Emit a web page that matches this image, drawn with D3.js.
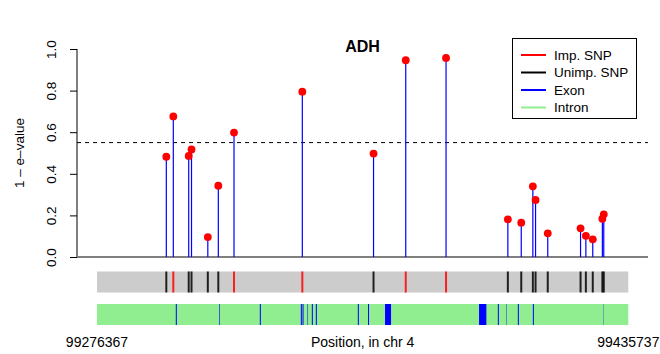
<!DOCTYPE html>
<html><head><meta charset="utf-8">
<script src="https://cdn.jsdelivr.net/npm/d3@7"></script>
<style>body{margin:0;background:#fff}svg{display:block;font-family:"Liberation Sans",Arial,sans-serif}</style>
</head><body>
<script>
const title = "ADH";
const chrom = "4";
const regionStart = 99276367;
const regionEnd = 99435737;
const snpPos = [99297157,99299257,99303877,99304717,99309607,99312757,99317467,99337957,99359317,99368977,99381067,99399607,99403627,99407107,99407917,99411577,99421417,99423007,99425077,99427957,99428377];
const snpValue = [0.482,0.676,0.486,0.517,0.096,0.343,0.598,0.795,0.497,0.946,0.957,0.181,0.165,0.340,0.274,0.114,0.138,0.102,0.085,0.184,0.205];
const snpImputed = [0,1,0,0,0,0,1,1,0,1,1,0,0,0,0,0,0,0,0,0,0];
const exonStart = [99300007,99312967,99325207,99337507,99338017,99339517,99340807,99342007,99354607,99357667,99362767,99390967,99396607,99399157,99402607,99407107,99428197];
const exonEnd   = [99300307,99313147,99325507,99337807,99338317,99339667,99341107,99342307,99354907,99357967,99364567,99393157,99396907,99399277,99402907,99407407,99428287];
const threshold = 0.55;
const yTicks = [0,0.2,0.4,0.6,0.8,1.0];
const legendLabels = ["Imp. SNP","Unimp. SNP","Exon","Intron"];
const legendColors = ["#FF0000","#000000","#0000FF","#90EE90"];

const W=660,H=354;
const svg=d3.select("body").append("svg").attr("width",W).attr("height",H);
const x=d3.scaleLinear().domain([regionStart,regionEnd]).range([97,628.3]);
const y=d3.scaleLinear().domain([0,1]).range([257,49]);
const plotL=77, plotR=648;

// title
svg.append("text").attr("x",362.5).attr("y",52).attr("text-anchor","middle")
  .attr("font-size",16).attr("font-weight","bold").text(title);

// y axis
const yAxis=svg.append("g").attr("transform",`translate(${plotL},0)`)
  .call(d3.axisLeft(y).tickValues(yTicks).tickSize(7).tickFormat(d3.format(".1f")));
yAxis.attr("font-family",null);
yAxis.select(".domain").attr("stroke","#000").attr("d",`M0,${y(0)}V${y(1)}`);
yAxis.selectAll(".tick line").attr("stroke","#000");
yAxis.selectAll(".tick text").attr("font-size",13.5).attr("fill","#000")
  .attr("x",0).attr("dy",0).attr("text-anchor","middle")
  .attr("transform","translate(-21,0) rotate(-90)");

svg.append("text").attr("transform",`translate(24,${(y(0)+y(1))/2}) rotate(-90)`)
  .attr("text-anchor","middle").attr("font-size",13.5).text("1 \u2013 e\u2013value");

// baseline and threshold
svg.append("line").attr("x1",plotL).attr("x2",plotR).attr("y1",y(0)).attr("y2",y(0))
  .attr("stroke","#808080").attr("stroke-width",2);
svg.append("line").attr("x1",plotL).attr("x2",plotR).attr("y1",y(threshold)).attr("y2",y(threshold))
  .attr("stroke","#000").attr("stroke-dasharray","4,4");

const snps=snpPos.map((p,i)=>({p,v:snpValue[i],imp:snpImputed[i]}));
// stems
svg.append("g").selectAll("line").data(snps).join("line")
  .attr("x1",d=>x(d.p)).attr("x2",d=>x(d.p)).attr("y1",y(0)).attr("y2",d=>y(d.v))
  .attr("stroke","#0000FF").attr("stroke-width",1.2);
svg.append("g").selectAll("circle").data(snps).join("circle")
  .attr("cx",d=>x(d.p)).attr("cy",d=>y(d.v)).attr("r",3.9).attr("fill","#FF0000");

// SNP track
const t1=271.5,t1h=21;
svg.append("rect").attr("x",x(regionStart)).attr("width",x(regionEnd)-x(regionStart)).attr("y",t1).attr("height",t1h).attr("fill","#CCCCCC");
svg.append("g").selectAll("line").data(snps).join("line")
  .attr("x1",d=>x(d.p)).attr("x2",d=>x(d.p)).attr("y1",t1).attr("y2",t1+t1h)
  .attr("stroke",d=>d.imp?"#FF0000":"#000000").attr("stroke-width",2).attr("stroke-opacity",0.85);

// gene track
const t2=304,t2h=21;
svg.append("rect").attr("x",x(regionStart)).attr("width",x(regionEnd)-x(regionStart)).attr("y",t2).attr("height",t2h).attr("fill","#90EE90");
const exons=exonStart.map((s,i)=>({s,e:exonEnd[i]}));
svg.append("g").selectAll("rect").data(exons).join("rect")
  .attr("x",d=>x(d.s)).attr("width",d=>x(d.e)-x(d.s)).attr("y",t2).attr("height",t2h).attr("fill","#0000FF");

// bottom labels
svg.append("text").attr("x",x(regionStart)).attr("y",347).attr("text-anchor","middle").attr("font-size",14).text(String(regionStart));
svg.append("text").attr("x",x(regionEnd)).attr("y",347).attr("text-anchor","middle").attr("font-size",14).text(String(regionEnd));
svg.append("text").attr("x",(x(regionStart)+x(regionEnd))/2).attr("y",347).attr("text-anchor","middle").attr("font-size",14).text("Position, in chr "+chrom);

// legend
const lg=svg.append("g");
lg.append("rect").attr("x",512.5).attr("y",38.5).attr("width",124).attr("height",80).attr("fill","#fff").attr("stroke","#000");
const items=lg.selectAll("g").data(legendLabels).join("g").attr("transform",(d,i)=>`translate(0,${55+i*17.5})`);
items.append("line").attr("x1",521).attr("x2",546).attr("stroke",(d,i)=>legendColors[i]).attr("stroke-width",2);
items.append("text").attr("x",554).attr("y",4.8).attr("font-size",13.5).text(d=>d);
</script>
</body></html>
